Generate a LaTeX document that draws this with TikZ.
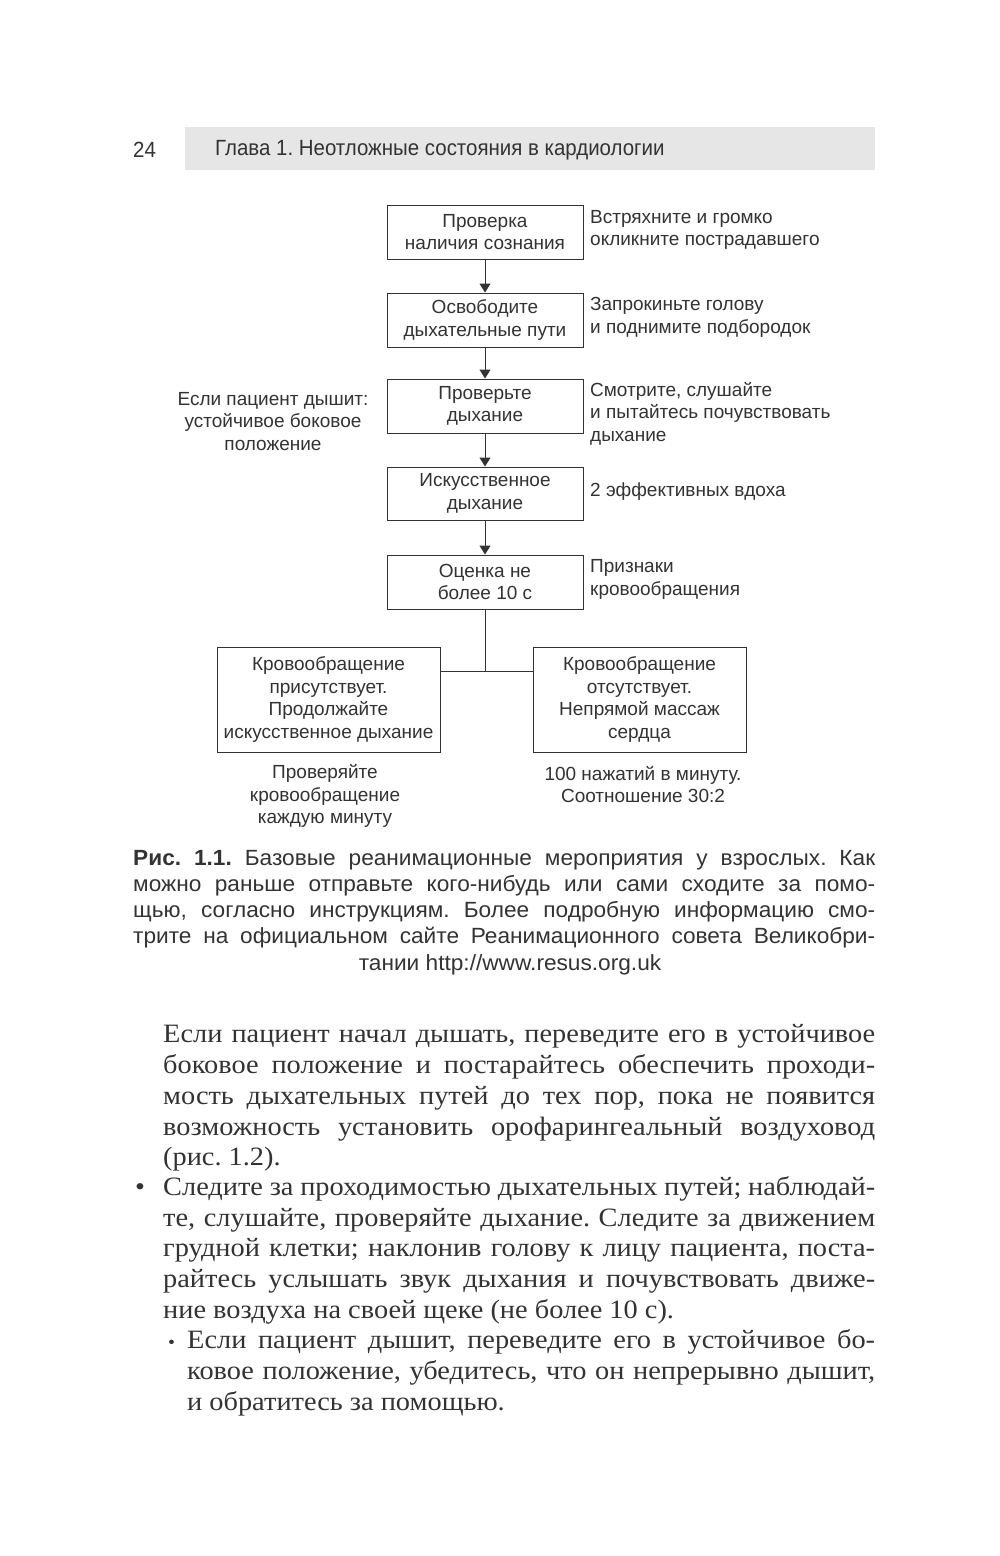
\documentclass[tikz,border=0pt]{standalone}
\usepackage{fontspec}
\usetikzlibrary{arrows.meta}
\setmainfont[FakeStretch=1.07]{Liberation Serif}
\newfontfamily\dsans{Liberation Sans}
\newfontfamily\hsans[FakeStretch=0.93]{Liberation Sans}
\newfontfamily\csans[FakeStretch=1.03]{Liberation Sans}
\definecolor{ink}{HTML}{333333}
\definecolor{barfill}{HTML}{E6E6E6}
\newcommand\dfont{\dsans\fontsize{19}{22.6}\selectfont}
\newcommand\hfont{\hsans\fontsize{22}{26}\selectfont}
\newcommand\capfont{\csans\fontsize{22}{26}\selectfont}
\newcommand\bodyfont{\rmfamily\fontsize{26.5}{31}\selectfont}
\newcommand\jl[2]{\hbox to #1{#2}}
\frenchspacing
\begin{document}
\frenchspacing
\begin{tikzpicture}[x=1pt,y=-1pt,
  every node/.style={text=ink},
  box/.style={draw=ink, line width=1pt, rectangle, inner sep=0pt, align=center, font=\dfont},
  note/.style={inner sep=0pt, font=\dfont},
  arr/.style={draw=ink, line width=1pt, -{Triangle[length=9pt,width=11pt]}},
  link/.style={draw=ink, line width=1pt},
  capline/.style={anchor=base west, inner sep=0pt, font=\capfont},
  bodyline/.style={anchor=base west, inner sep=0pt, font=\bodyfont}]
\fill[white] (0,0) rectangle (1000,1556);
\useasboundingbox (0,0) rectangle (1000,1556);
% header
\fill[barfill] (185,127) rectangle (875,170);
\node[anchor=west, inner sep=0pt, font=\hfont] (pgno) at (133,150) {24};
\node[anchor=west, inner sep=0pt, font=\hfont] (htitle) at (215,150) {Глава 1. Неотложные состояния в кардиологии};
% flowchart boxes
\node[box, minimum width=196pt, minimum height=54pt] (b1) at (485,232) {Проверка\\наличия сознания};
\node[box, minimum width=196pt, minimum height=54pt] (b2) at (485,320) {Освободите\\дыхательные пути};
\node[box, minimum width=196pt, minimum height=54pt] (b3) at (485,406) {Проверьте\\дыхание};
\node[box, minimum width=196pt, minimum height=53pt] (b4) at (485,493.5) {Искусственное\\дыхание};
\node[box, minimum width=196pt, minimum height=54pt] (b5) at (485,582) {Оценка не\\более 10 с};
\node[box, minimum width=223pt, minimum height=105pt] (bl) at (328.5,699.5) {Кровообращение\\присутствует.\\Продолжайте\\искусственное дыхание};
\node[box, minimum width=213pt, minimum height=105pt] (br) at (639.5,699.5) {Кровообращение\\отсутствует.\\Непрямой массаж\\сердца};
% notes
\node[note, anchor=west, align=left] (n1) at (590,230) {Встряхните и громко\\окликните пострадавшего};
\node[note, anchor=west, align=left] (n2) at (590,317.5) {Запрокиньте голову\\и поднимите подбородок};
\node[note, anchor=west, align=left] (n3) at (590,413.5) {Смотрите, слушайте\\и пытайтесь почувствовать\\дыхание};
\node[note, anchor=west, align=left] (n4) at (590,492) {2 эффективных вдоха};
\node[note, anchor=west, align=left] (n5) at (590,579.5) {Признаки\\кровообращения};
\node[note, align=center] (nl) at (273,421.5) {Если пациент дышит:\\устойчивое боковое\\положение};
\node[note, align=center] (nbl) at (325,796) {Проверяйте\\кровообращение\\каждую минуту};
\node[note, align=center] (nbr) at (643,784.5) {100 нажатий в минуту.\\Соотношение 30:2};
% connectors
\draw[arr] (b1) -- (b2);
\draw[arr] (b2) -- (b3);
\draw[arr] (b3) -- (b4);
\draw[arr] (b4) -- (b5);
\coordinate (j) at (485,671);
\draw[link] (b5.south) -- (j);
\draw[link] (bl.east |- j) -- (br.west |- j);
% caption
\node[capline] (c1) at (133,865) {\jl{742pt}{\textbf{Рис. 1.1.} Базовые реанимационные мероприятия у взрослых. Как}};
\node[capline] (c2) at (133,891) {\jl{742pt}{можно раньше отправьте кого-нибудь или сами сходите за помо-}};
\node[capline] (c3) at (133,917) {\jl{742pt}{щью, согласно инструкциям. Более подробную информацию смо-}};
\node[capline] (c4) at (133,943) {\jl{742pt}{трите на официальном сайте Реанимационного совета Великобри-}};
\node[anchor=base, inner sep=0pt, font=\capfont] (c5) at (510,970) {тании http://www.resus.org.uk};
% body
\node[bodyline] (l1) at (163,1042) {\jl{712pt}{Если пациент начал дышать, переведите его в устойчивое}};
\node[bodyline] (l2) at (163,1073) {\jl{712pt}{боковое положение и постарайтесь обеспечить проходи-}};
\node[bodyline] (l3) at (163,1104) {\jl{712pt}{мость дыхательных путей до тех пор, пока не появится}};
\node[bodyline] (l4) at (163,1135) {\jl{712pt}{возможность установить орофарингеальный воздуховод}};
\node[bodyline] (l5) at (163,1165) {(рис. 1.2).};
\node[bodyline] (bu1) at (135,1195) {\textbullet};
\node[bodyline] (l6) at (163,1195) {\jl{712pt}{Следите за проходимостью дыхательных путей; наблюдай-}};
\node[bodyline] (l7) at (163,1226) {\jl{712pt}{те, слушайте, проверяйте дыхание. Следите за движением}};
\node[bodyline] (l8) at (163,1256) {\jl{712pt}{грудной клетки; наклонив голову к лицу пациента, поста-}};
\node[bodyline] (l9) at (163,1287) {\jl{712pt}{райтесь услышать звук дыхания и почувствовать движе-}};
\node[bodyline] (l10) at (163,1318) {ние воздуха на своей щеке (не более 10 с).};
\node[bodyline] (bu2) at (168,1348) {\scalebox{0.7}{\textbullet}};
\node[bodyline] (l11) at (187,1348) {\jl{688pt}{Если пациент дышит, переведите его в устойчивое бо-}};
\node[bodyline] (l12) at (187,1379) {\jl{688pt}{ковое положение, убедитесь, что он непрерывно дышит,}};
\node[bodyline] (l13) at (187,1410) {и обратитесь за помощью.};
\end{tikzpicture}
\end{document}
